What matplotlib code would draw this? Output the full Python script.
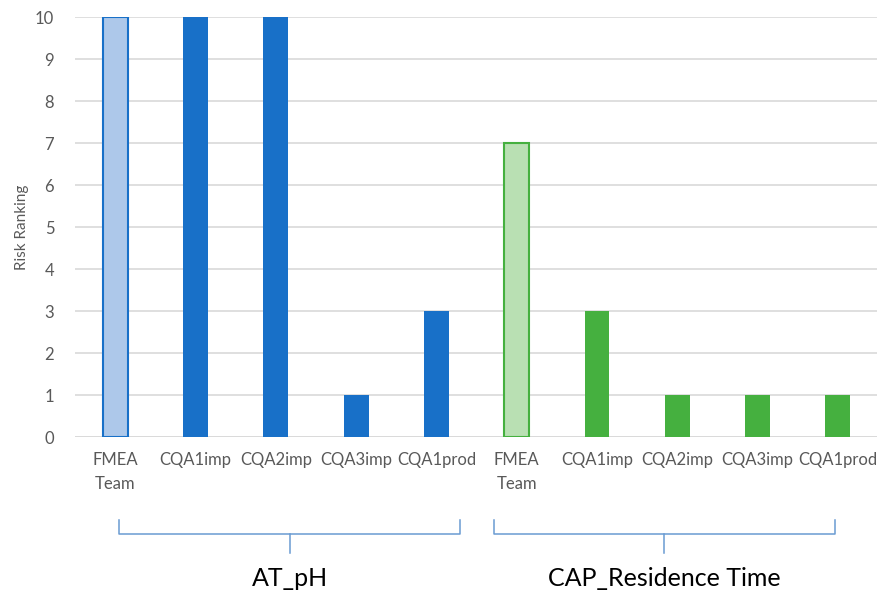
import matplotlib.pyplot as plt
import matplotlib.transforms as mtransforms

# Risk ranking per source, two process parameters side by side
categories = ["FMEA\nTeam", "CQA1imp", "CQA2imp", "CQA3imp", "CQA1prod",
              "FMEA\nTeam", "CQA1imp", "CQA2imp", "CQA3imp", "CQA1prod"]
at_ph = [10, 10, 10, 1, 3]
cap_residence = [7, 3, 1, 1, 1]
groups = ["AT_pH", "CAP_Residence Time"]

plt.rcParams["font.family"] = ["Lato", "DejaVu Sans"]

BLUE = "#1870c8"
BLUE_LIGHT = "#adc8ea"
GREEN = "#45b03f"
GREEN_LIGHT = "#b9e0b3"
BRACKET = "#6a9bd2"
TEXT = "#595959"


def main():
    fig = plt.figure(figsize=(8.78, 5.93), dpi=100)
    ax = fig.add_axes([0.0855, 0.263, 0.9145, 0.708])

    values = at_ph + cap_residence
    x = list(range(len(values)))
    faces = [BLUE_LIGHT] + [BLUE] * 4 + [GREEN_LIGHT] + [GREEN] * 4
    edges = [BLUE] * 5 + [GREEN] * 5
    lws = [1.5, 0, 0, 0, 0, 1.5, 0, 0, 0, 0]
    ax.bar(x, values, width=0.31, color=faces, edgecolor=edges,
           linewidth=lws, zorder=3)

    ax.set_xlim(-0.5, len(values) - 0.5)
    ax.set_ylim(0, 10)
    ax.set_yticks(range(0, 11))
    ax.yaxis.grid(True, color="#d9d9d9", linewidth=1.2, zorder=0)
    for s in ax.spines.values():
        s.set_visible(False)
    ax.axhline(0, color="#d9d9d9", linewidth=1.2, zorder=1)
    ax.tick_params(length=0, colors=TEXT, labelsize=12)
    ax.tick_params(axis="y", pad=15)
    ax.set_xticks(x)
    ax.set_xticklabels(categories, linespacing=1.6)
    ax.tick_params(axis="x", pad=11)
    ax.set_ylabel("Risk Ranking", color=TEXT, fontsize=11, labelpad=4)

    # brackets under each group of categories
    trans = mtransforms.blended_transform_factory(ax.transData, fig.transFigure)
    top, mid, tip = 1 - 520 / 593, 1 - 534 / 593, 1 - 553 / 593
    spans = [(0.05, 4.3), (4.72, 8.96)]
    for (x0, x1), name in zip(spans, groups):
        xm = (x0 + x1) / 2
        ax.plot([x0, x0, x1, x1], [top, mid, mid, top], color=BRACKET,
                lw=1.1, transform=trans, clip_on=False)
        ax.plot([xm, xm], [mid, tip], color=BRACKET, lw=1.1,
                transform=trans, clip_on=False)
        ax.text(xm, 1 - 578 / 593, name, transform=trans, ha="center",
                va="center", fontsize=18, color="black")

    fig.savefig("out.png", dpi=100)


if __name__ == "__main__":
    main()
